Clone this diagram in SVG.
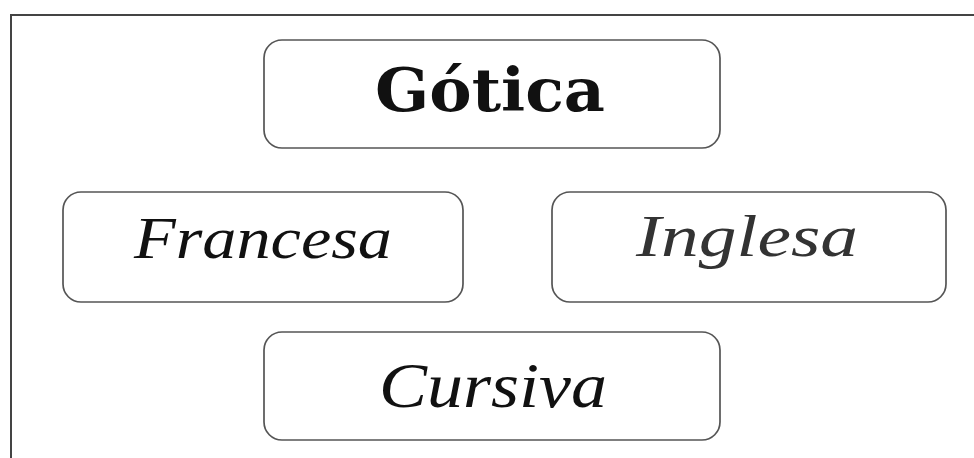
<svg xmlns="http://www.w3.org/2000/svg" width="974" height="458" viewBox="0 0 974 458">
<style>
.frame{fill:none;stroke:#444;stroke-width:2}
.box{fill:#fff;stroke:#555;stroke-width:1.7}
.lbl{text-anchor:middle;fill:#111}
.goth{font-family:"DejaVu Serif","Liberation Serif",serif;font-weight:bold;font-size:60px}
.script{font-family:"Liberation Serif","DejaVu Serif",serif;font-style:italic;font-size:60px}
</style>
<rect width="974" height="458" fill="#fff"/>
<rect class="frame" x="11" y="15" width="980" height="460"/>
<g id="connectors"></g>
<g id="gotica">
<rect class="box" x="264" y="40" width="456" height="108" rx="18"/>
<text class="lbl goth" x="490" y="111" textLength="230" lengthAdjust="spacingAndGlyphs">Gótica</text>
</g>
<g id="francesa">
<rect class="box" x="63" y="192" width="400" height="110" rx="18"/>
<text class="lbl script" x="263" y="258" textLength="258" lengthAdjust="spacingAndGlyphs">Francesa</text>
</g>
<g id="inglesa">
<rect class="box" x="552" y="192" width="394" height="110" rx="18"/>
<text class="lbl script" x="747" y="256" textLength="222" lengthAdjust="spacingAndGlyphs" style="fill:#333">Inglesa</text>
</g>
<g id="cursiva">
<rect class="box" x="264" y="332" width="456" height="108" rx="18"/>
<text class="lbl script" x="493" y="407" textLength="228" lengthAdjust="spacingAndGlyphs" style="font-size:64px">Cursiva</text>
</g>
</svg>
